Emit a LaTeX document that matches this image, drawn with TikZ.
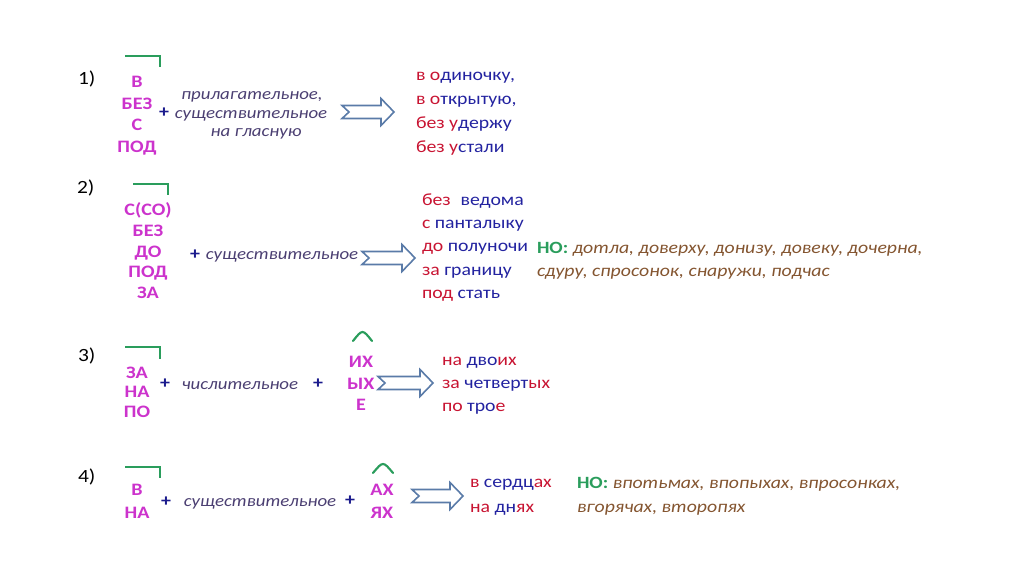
\documentclass[tikz,border=0pt]{standalone}
\usepackage{fontspec}
\setmainfont{Carlito}
\definecolor{premag}{HTML}{CC33CC}
\definecolor{ansred}{HTML}{C81432}
\definecolor{ansblue}{HTML}{2323A0}
\definecolor{nogreen}{HTML}{2A9D5C}
\definecolor{mybrown}{HTML}{845530}
\definecolor{itc}{HTML}{4B3F72}
\definecolor{pluscol}{HTML}{1A1A8C}
\definecolor{arrcol}{HTML}{5A7BA8}
\newcommand{\R}[1]{\textcolor{ansred}{#1}}
\newcommand{\B}[1]{\textcolor{ansblue}{#1}}
\newcommand{\NO}{\textcolor{nogreen}{\bfseries НО:}}
\newcommand{\BR}[1]{\textcolor{mybrown}{\itshape #1}}
\newcommand{\fatarr}[3]{\draw[fatarrow] (#1,#3-6.5) -- (#2-13,#3-6.5) -- (#2-13,#3-13.5) -- (#2,#3) -- (#2-13,#3+13.5) -- (#2-13,#3+6.5) -- (#1,#3+6.5) -- (#1+7,#3) -- cycle;}
\begin{document}
\begin{tikzpicture}[x=0.75pt,y=-0.75pt,
  txt/.style={inner sep=0pt, outer sep=0pt, xscale=1.15},
  num/.style={txt, anchor=base west, font=\fontsize{14}{16}\selectfont},
  pre/.style={txt, anchor=base, text=premag, font=\bfseries\fontsize{13.1}{15}\selectfont},
  plus/.style={txt, anchor=center, text=pluscol, font=\bfseries\fontsize{13}{15}\selectfont},
  ital/.style={txt, anchor=base, text=itc, font=\itshape\fontsize{12.3}{14}\selectfont},
  ans/.style={txt, anchor=base west, font=\fontsize{12.9}{15}\selectfont},
  nob/.style={txt, anchor=base west, font=\fontsize{12.9}{15}\selectfont},
  brk/.style={draw=nogreen, line width=1.5pt},
  hat/.style={draw=nogreen, line width=1.6pt, line cap=round},
  fatarrow/.style={draw=arrcol, line width=1.2pt, fill=white, line join=miter}
]
\useasboundingbox (0,0) rectangle (1024,574);

% ---------- 1)
\node[num] (n1) at (78,85) {1)};
\draw[brk] (125,55.7) -- (160,55.7) -- (160,66.7);
\node[pre] (p1a) at (137,88) {В};
\node[pre] (p1b) at (137,109.5) {БЕЗ};
\node[pre] (p1c) at (137,131) {С};
\node[pre] (p1d) at (137,152.5) {ПОД};
\node[plus] (pl1) at (164,113) {+};
\node[ital] (i1a) at (252,100) {прилагательное,};
\node[ital] (i1b) at (251,118.5) {существительное};
\node[ital] (i1c) at (256,137) {на гласную};
\fatarr{342}{394}{112}
\node[ans] (a1a) at (416,81) {\R{в о}\B{диночку,}};
\node[ans] (a1b) at (416,105) {\R{в о}\B{ткрытую,}};
\node[ans] (a1c) at (416,129) {\R{без у}\B{держу}};
\node[ans] (a1d) at (416,153) {\R{без у}\B{стали}};

% ---------- 2)
\node[num] (n2) at (77,194) {2)};
\draw[brk] (133,184) -- (168,184) -- (168,195);
\node[pre] (p2a) at (148,215.5) {С(СО)};
\node[pre] (p2b) at (148,236.5) {БЕЗ};
\node[pre] (p2c) at (148,257) {ДО};
\node[pre] (p2d) at (148,277.5) {ПОД};
\node[pre] (p2e) at (148,298) {ЗА};
\node[plus] (pl2) at (195,255) {+};
\node[ital] (i2) at (282,259) {существительное};
\fatarr{362}{415}{258}
\node[ans] (a2a) at (422,205) {\R{без}\hspace{0.5em}\B{ведома}};
\node[ans] (a2b) at (422,228) {\R{с} \B{панталыку}};
\node[ans] (a2c) at (422,251.5) {\R{до} \B{полуночи}};
\node[ans] (a2d) at (422,275) {\R{за} \B{границу}};
\node[ans] (a2e) at (422,298) {\R{под} \B{стать}};
\node[nob] (no2a) at (537,253) {\NO{} \BR{дотла, доверху, донизу, довеку, дочерна,}};
\node[nob] (no2b) at (537,276) {\BR{сдуру, спросонок, снаружи, подчас}};

% ---------- 3)
\node[num] (n3) at (78,361) {3)};
\draw[brk] (125,347) -- (160,347) -- (160,359);
\node[pre] (p3a) at (137,378) {ЗА};
\node[pre] (p3b) at (137,397.5) {НА};
\node[pre] (p3c) at (137,417) {ПО};
\node[plus] (pl3a) at (165,384) {+};
\node[ital] (i3) at (240,389) {числительное};
\node[plus] (pl3b) at (318,384) {+};
\draw[hat] (353,341) .. controls (362.5,329) .. (372,341);
\node[pre] (s3a) at (361,367) {ИХ};
\node[pre] (s3b) at (361,389.5) {ЫХ};
\node[pre] (s3c) at (361,410) {Е};
\fatarr{378}{433}{383}
\node[ans] (a3a) at (442,365) {\R{на} \B{дво}\R{их}};
\node[ans] (a3b) at (442,388) {\R{за} \B{четверт}\R{ых}};
\node[ans] (a3c) at (442,411) {\R{по} \B{тро}\R{е}};

% ---------- 4)
\node[num] (n4) at (78,482) {4)};
\draw[brk] (125,467) -- (160,467) -- (160,478);
\node[pre] (p4a) at (137,495) {В};
\node[pre] (p4b) at (137,518) {НА};
\node[plus] (pl4a) at (166,502) {+};
\node[ital] (i4) at (260,506) {существительное};
\node[plus] (pl4b) at (350,501) {+};
\draw[hat] (373,473) .. controls (383,461) .. (393,473);
\node[pre] (s4a) at (382,495) {АХ};
\node[pre] (s4b) at (382,518) {ЯХ};
\fatarr{412}{463}{496}
\node[ans] (a4a) at (470,487.5) {\R{в} \B{сердц}\R{ах}};
\node[ans] (a4b) at (470,512) {\R{на} \B{дн}\R{ях}};
\node[nob] (no4a) at (577,488) {\NO{} \BR{впотьмах, впопыхах, впросонках,}};
\node[nob] (no4b) at (577,512) {\BR{вгорячах, второпях}};
\end{tikzpicture}
\end{document}
